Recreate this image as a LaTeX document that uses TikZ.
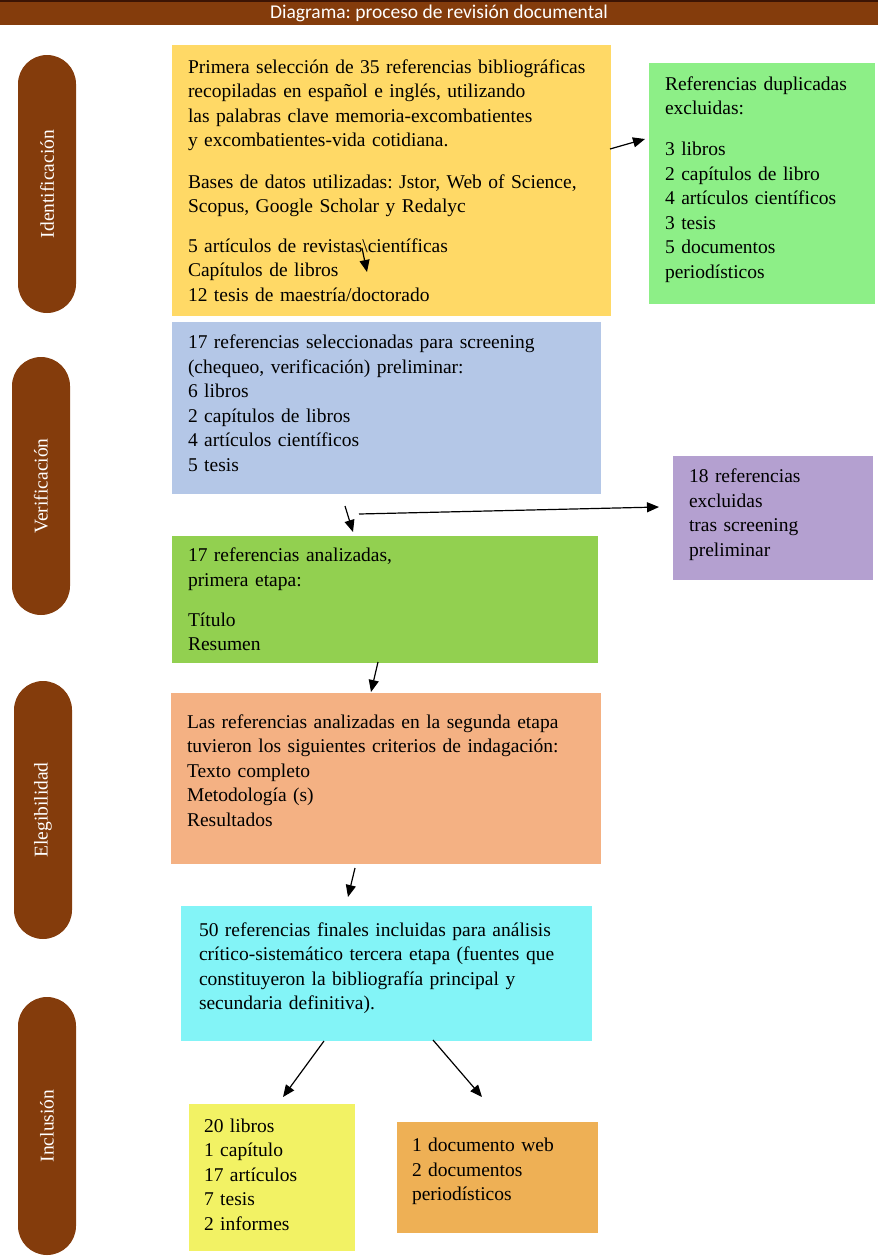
\documentclass[tikz,border=0pt]{standalone}
\usepackage{fontspec}
\setmainfont{Liberation Serif}
\newfontfamily\headfont{Carlito}
\usetikzlibrary{arrows.meta}
\frenchspacing
\definecolor{brn}{HTML}{843C0C}
\definecolor{brndark}{HTML}{3C1404}
\definecolor{yel}{HTML}{FFD966}
\definecolor{grn}{HTML}{8DEF87}
\definecolor{blu}{HTML}{B4C7E7}
\definecolor{pur}{HTML}{B4A0D0}
\definecolor{grnb}{HTML}{92D050}
\definecolor{org}{HTML}{F4B183}
\definecolor{cyn}{HTML}{83F4F7}
\definecolor{yelb}{HTML}{F2F264}
\definecolor{orgb}{HTML}{EEB055}

\begin{document}
\begin{tikzpicture}[x=1pt,y=-1pt,
    nd/.style={fill=#1, inner xsep=16pt, inner ysep=0pt, align=left,
      font=\fontsize{19.5}{24.5}\selectfont},
    pill/.style={fill=brn, text=white, rotate=90, minimum width=258pt,
      minimum height=58pt, rounded corners=29pt, inner sep=0pt,
      font=\fontsize{19.5}{24.5}\selectfont},
    arw/.style={line width=1.2pt,-{Triangle[length=12pt,width=10pt]}}]
  \useasboundingbox (0,0) rectangle (878,1256);
  \node[fill=brn, minimum width=878pt, minimum height=24pt, inner sep=0pt,
    text=white, font=\headfont\fontsize{19.5}{20}\selectfont]
    (title) at (439,13) {Diagrama: proceso de revisión documental};
  \draw[brndark, line width=2pt] (title.north west) -- (title.north east);
  % stages
  \node[pill] (identif) at (47,184) {Identificación};
  \node[pill] (verif) at (41,486) {Verificación};
  \node[pill] (elegib) at (43,810) {Elegibilidad};
  \node[pill] (inclus) at (47,1126) {Inclusión};
  % boxes
  \node[nd=yel, minimum width=439pt, minimum height=271pt, text width=407pt]
    (primera) at (391.5,180.5) {Primera selección de 35 referencias bibliográficas\\
    recopiladas en español e inglés, utilizando\\
    las palabras clave memoria-excombatientes\\
    y excombatientes-vida cotidiana.\\[17pt]
    Bases de datos utilizadas: Jstor, Web of Science,\\
    Scopus, Google Scholar y Redalyc\\[15pt]
    5 artículos de revistas\textbackslash científicas\\
    Capítulos de libros\\
    12 tesis de maestría/doctorado};
  \node[nd=grn, minimum width=226pt, minimum height=241pt, text width=194pt,
    text depth=200pt] (duplic) at (762,183.5) {Referencias duplicadas\\
    excluidas:\\[16.5pt]
    3 libros\\
    2 capítulos de libro\\
    4 artículos científicos\\
    3 tesis\\
    5 documentos\\
    periodísticos};
  \node[nd=blu, minimum width=429pt, minimum height=172pt, text width=397pt,
    text depth=132.5pt] (screen) at (386.5,408)
    {17 referencias seleccionadas para screening\\
    (chequeo, verificación) preliminar:\\
    6 libros\\
    2 capítulos de libros\\
    4 artículos científicos\\
    5 tesis};
  \node[nd=pur, minimum width=200pt, minimum height=124pt, text width=168pt,
    text depth=84pt] (excl) at (773,518) {18 referencias\\
    excluidas\\
    tras screening\\
    preliminar};
  \node[nd=grnb, minimum width=426pt, minimum height=127pt, text width=394pt]
    (etapa1) at (385,599.5) {17 referencias analizadas,\\
    primera etapa:\\[15.5pt]
    Título\\
    Resumen};
  \node[nd=org, minimum width=430pt, minimum height=171pt, text width=398pt,
    text depth=114pt] (etapa2) at (386,778.5)
    {Las referencias analizadas en la segunda etapa\\
    tuvieron los siguientes criterios de indagación:\\
    Texto completo\\
    Metodología (s)\\
    Resultados};
  \node[nd=cyn, minimum width=411pt, minimum height=135pt, text width=375pt,
    inner xsep=18pt, text depth=88pt] (finales) at (386.5,973.5)
    {50 referencias finales incluidas para análisis\\
    crítico-sistemático tercera etapa (fuentes que\\
    constituyeron la bibliografía principal y\\
    secundaria definitiva).};
  \node[nd=yelb, minimum width=166pt, minimum height=147pt, text width=136pt,
    inner xsep=15pt, text depth=104pt] (libros) at (272,1177.5) {20 libros\\
    1 capítulo\\
    17 artículos\\
    7 tesis\\
    2 informes};
  \node[nd=orgb, minimum width=201pt, minimum height=111pt, text width=171pt,
    inner xsep=15pt, text depth=65pt] (web) at (497.5,1177.5) {1 documento web\\
    2 documentos\\
    periodísticos};
  % arrows
  \coordinate (toDupA) at (610,149);
  \coordinate (toDupB) at (645,139);
  \coordinate (inPrimA) at (362,248);
  \coordinate (inPrimB) at (367,272);
  \coordinate (toEt1A) at (345,506);
  \coordinate (toEt1B) at (353,532);
  \coordinate (toExclA) at (359,514);
  \coordinate (toExclB) at (659,507);
  \coordinate (toEt2A) at (378,662);
  \coordinate (toEt2B) at (371,692);
  \coordinate (toFinA) at (355,868);
  \coordinate (toFinB) at (348,897);
  \coordinate (toLibA) at (324,1041);
  \coordinate (toLibB) at (283,1097);
  \coordinate (toWebA) at (433,1040);
  \coordinate (toWebB) at (482,1097);
  \draw[arw] (toDupA) -- (toDupB);
  \draw[arw] (inPrimA) -- (inPrimB);
  \draw[arw] (toEt1A) -- (toEt1B);
  \draw[arw] (toExclA) -- (toExclB);
  \draw[arw] (toEt2A) -- (toEt2B);
  \draw[arw] (toFinA) -- (toFinB);
  \draw[arw] (toLibA) -- (toLibB);
  \draw[arw] (toWebA) -- (toWebB);
\end{tikzpicture}
\end{document}
